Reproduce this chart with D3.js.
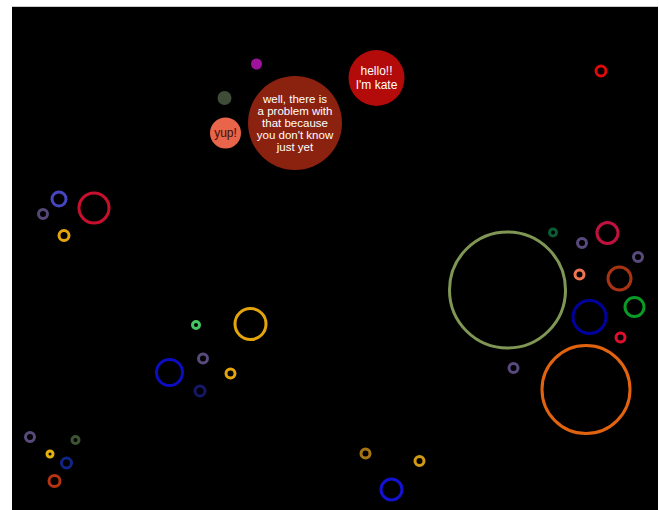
<!DOCTYPE html>
<html><head><meta charset="utf-8">
<script src="https://cdn.jsdelivr.net/npm/d3@7"></script>
<style>body{margin:0;background:#fff;}svg{display:block;}</style>
</head><body>
<svg id="chart" width="659" height="510"></svg>
<script>
// ring bubbles: x, y, radius, colour index
const ringX = [601, 59, 43, 94, 64, 507.5, 553, 607.5, 582, 638, 579.5, 619.5, 634.5, 589.5, 620.5, 513.5, 586, 196, 250.5, 203, 169.5, 230.5, 200, 30, 75.5, 50, 66.5, 54.5, 365.5, 419.5, 391.5];
const ringY = [71, 199, 214, 208, 235.5, 290, 232.5, 233, 243, 257, 274.5, 278.5, 307, 317, 337.5, 368, 389.5, 325, 324, 358.5, 372.5, 373.5, 391, 437, 440, 454, 463, 481, 453.5, 461, 489.5];
const ringR = [5, 7, 4.5, 15, 5, 58, 3.5, 10.5, 4.5, 4.5, 4.5, 11.5, 9.5, 16.5, 4.5, 4.5, 44, 3.5, 15.5, 4.5, 13, 4.5, 5, 4.5, 3.5, 3, 5, 5.5, 4.5, 4.5, 10.5];
const ringColor = ["#dd0a0a", "#4646c0", "#554778", "#c8102e", "#e3a40c", "#7f9655", "#0b5c35", "#c0123e", "#584a7c", "#584a7c", "#f07452", "#a83312", "#0a9a26", "#00009c", "#e0102c", "#584a7c", "#e2630f", "#44c462", "#e3a40c", "#584a7c", "#0c0cc0", "#e3a40c", "#17176a", "#584a7c", "#3c5432", "#e3b20c", "#112488", "#b53212", "#a67410", "#d09b12", "#1212d0"];

// filled bubbles: x, y, radius, colour, text lines
const dotX = [376.5, 295, 225.5, 224.5, 256.5];
const dotY = [78, 123, 133, 98, 64];
const dotR = [28, 47, 15.5, 7, 5.5];
const dotColor = ["#b30a0a", "#8b2210", "#e8644a", "#3e4c38", "#a0129c"];
const dotText = [["hello!!", "I'm kate"], ["well, there is", "a problem with", "that because", "you don't know", "just yet"], ["yup!"], [], []];

const svg = d3.select("#chart");
const W = 646, H = 510;
const x = d3.scaleLinear().domain([0, W]).range([12, 12 + W]);
const y = d3.scaleLinear().domain([0, H]).range([7, 7 + H]);
const r = d3.scaleLinear().domain([0, 1]).range([0, 1]);

svg.append("rect").attr("x", 12).attr("y", 6).attr("width", W).attr("height", 1).attr("fill", "#cccccc");
svg.append("rect").attr("x", 12).attr("y", 7).attr("width", W).attr("height", H).attr("fill", "#000");

const rings = ringX.map((v, i) => ({x: v, y: ringY[i], r: ringR[i], c: ringColor[i]}));
svg.append("g").selectAll("circle").data(rings).join("circle")
  .attr("cx", d => x(d.x) - 12).attr("cy", d => y(d.y) - 7).attr("r", d => r(d.r))
  .attr("fill", "none").attr("stroke", d => d.c).attr("stroke-width", 3);

const dots = dotX.map((v, i) => ({x: v, y: dotY[i], r: dotR[i], c: dotColor[i], t: dotText[i]}));
const g = svg.append("g").selectAll("g").data(dots).join("g")
  .attr("transform", d => `translate(${x(d.x) - 12},${y(d.y) - 7})`);
g.append("circle").attr("r", d => r(d.r)).attr("fill", d => d.c);
g.each(function(d) {
  const n = d.t.length;
  const lh = d.r > 40 ? 11.8 : 13.5;
  const fs = d.r > 40 ? 11.5 : 12;
  const t = d3.select(this).append("text")
    .attr("text-anchor", "middle")
    .attr("font-family", "Liberation Sans, Arial, sans-serif")
    .attr("font-size", fs)
    .attr("fill", d.r < 20 ? "#3a1008" : "#fff");
  d.t.forEach((line, k) => {
    t.append("tspan").attr("x", 0).attr("y", (k - (n - 1) / 2) * lh + fs * 0.35).text(line);
  });
});
</script>
</body></html>
